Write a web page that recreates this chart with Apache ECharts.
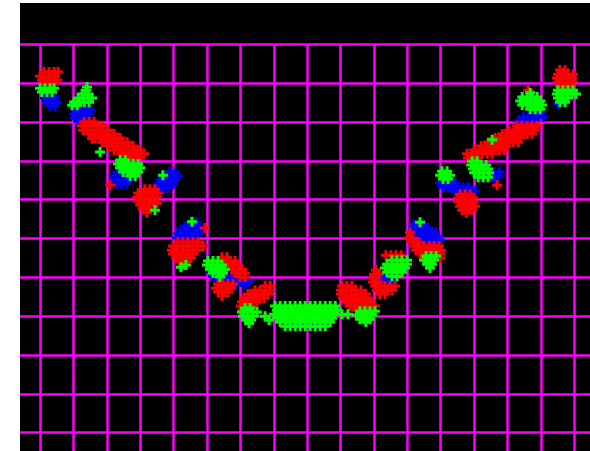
<!DOCTYPE html>
<html>
<head>
<meta charset="utf-8">
<script src="https://cdn.jsdelivr.net/npm/echarts@6/dist/echarts.min.js"></script>
<style>
  html, body { margin: 0; padding: 0; background: #ffffff; }
  #chart { width: 590px; height: 451px; }
</style>
</head>
<body>
<div id="chart"></div>
<script>
// Axis ranges: x runs 0..16, y runs 0..10, one grid line per unit
const xTicks = [0, 16, 1];
const yTicks = [0, 10, 1];

// Samples per channel, stored by rows: [y, x1, x2, ...]
const redRows = [
  [9.29, 0.12, 0.27, 0.42, 0.54], [9.18, 0.00, 0.15, 0.30, 0.45], [9.08, 0.06, 0.21, 0.36, 0.51], [8.98, 0.12, 0.27, 0.42],
  [8.00, 1.32, 1.47, 1.62], [7.90, 1.26, 1.41, 1.56, 1.71, 1.86], [7.79, 1.29, 1.44, 1.59, 1.74, 1.89, 2.04],
  [7.69, 1.47, 1.62, 1.77, 1.92, 2.07, 2.22], [7.59, 1.65, 1.80, 1.95, 2.10, 2.25, 2.40],
  [7.48, 1.86, 2.01, 2.16, 2.31, 2.46, 2.61], [7.38, 2.04, 2.19, 2.34, 2.49, 2.64, 2.79],
  [7.28, 2.22, 2.37, 2.52, 2.67, 2.82, 2.97], [7.18, 2.43, 2.58, 2.73, 2.88, 3.00, 3.12], [7.07, 2.64, 2.79, 2.94],
  [7.57, 1.56], [6.37, 2.10], [5.91, 3.50],
  [6.27, 3.14, 3.29, 3.44], [6.17, 2.94, 3.08, 3.23, 3.38, 3.53], [6.07, 2.91, 3.05, 3.20, 3.35, 3.50],
  [5.96, 2.94, 3.08, 3.23, 3.38], [5.86, 3.00, 3.14, 3.29], [5.76, 3.08, 3.23], [5.66, 3.20],
  [5.27, 4.94], [4.91, 4.13, 4.28, 4.43, 4.58, 4.73], [4.81, 3.98, 4.13, 4.28, 4.43, 4.58, 4.73, 4.88],
  [4.70, 3.95, 4.10, 4.25, 4.40, 4.55, 4.70], [4.60, 3.98, 4.13, 4.28, 4.43, 4.58],
  [4.50, 4.07, 4.22, 4.37, 4.52], [4.40, 4.19, 4.34], [4.29, 4.28],
  [4.52, 5.45, 5.60], [4.42, 5.54, 5.69, 5.84], [4.32, 5.63, 5.78, 5.93], [4.21, 5.75, 5.90, 6.05],
  [4.11, 5.84, 5.99, 6.14], [4.01, 5.99, 6.14],
  [3.83, 5.33, 5.48, 5.63, 5.78], [3.72, 5.27, 5.42, 5.57, 5.72], [3.62, 5.33, 5.48, 5.63], [3.52, 5.45],
  [3.78, 6.74, 6.89], [3.67, 6.44, 6.59, 6.74, 6.89], [3.57, 6.23, 6.38, 6.53, 6.68, 6.83],
  [3.47, 6.11, 6.26, 6.41, 6.56, 6.71], [3.37, 6.05, 6.20, 6.35, 6.50], [3.26, 6.02, 6.17, 6.32], [3.16, 6.08],
  [3.78, 9.04, 9.19, 9.34], [3.67, 9.01, 9.16, 9.31, 9.46, 9.61], [3.57, 9.01, 9.16, 9.31, 9.46, 9.61, 9.76],
  [3.47, 9.07, 9.22, 9.37, 9.52, 9.67, 9.82], [3.37, 9.16, 9.31, 9.46, 9.61, 9.76, 9.91],
  [3.26, 9.28, 9.43, 9.58, 9.73, 9.88, 10.03], [3.16, 9.49, 9.64, 9.79, 9.94], [3.05, 9.73, 9.88],
  [4.57, 10.36, 10.51, 10.66, 10.81], [4.19, 10.06], [4.08, 10.00, 10.15], [3.98, 9.97], [3.88, 9.97, 10.12],
  [3.78, 10.03, 10.18, 10.33, 10.48, 10.63], [3.67, 10.09, 10.24, 10.39, 10.54], [3.57, 10.18, 10.33],
  [5.16, 11.08], [5.01, 11.14, 11.02], [4.91, 11.17, 11.32], [4.81, 11.20, 11.35, 11.50, 11.65, 11.80, 11.95],
  [4.70, 11.26, 11.41, 11.56, 11.71, 11.86, 12.01], [4.60, 11.38, 11.53, 11.68, 11.83, 11.98], [4.50, 11.53, 11.98],
  [6.37, 13.69], [6.14, 12.58, 12.73, 12.88], [6.04, 12.52, 12.67, 12.82, 12.97], [5.94, 12.52, 12.67, 12.82, 12.97],
  [5.83, 12.58, 12.73, 12.88, 13.03], [5.73, 12.64, 12.79, 12.94], [5.66, 12.76],
  [7.90, 14.29, 14.44, 14.59, 14.74, 14.89], [7.79, 14.05, 14.20, 14.35, 14.50, 14.65, 14.80],
  [7.69, 13.84, 13.99, 14.14, 14.29, 14.44, 14.59, 14.74], [7.59, 13.63, 13.78, 13.93, 14.08, 14.23, 14.38],
  [7.48, 13.42, 13.57, 13.72, 13.87, 14.02, 14.17, 14.32], [7.38, 13.21, 13.36, 13.51, 13.66, 13.81, 13.96],
  [7.28, 13.00, 13.15, 13.30, 13.45, 13.60, 13.75, 13.90], [7.18, 12.79, 12.94, 13.09, 13.24, 13.39, 13.54],
  [7.07, 12.82, 12.97, 13.12], [8.82, 14.62],
  [9.34, 15.57, 15.72], [9.23, 15.51, 15.66, 15.81, 15.96], [9.13, 15.48, 15.63, 15.78, 15.93],
  [9.03, 15.51, 15.66, 15.81, 15.96], [8.92, 15.57, 15.72, 15.87]
];

const greenRows = [
  [8.87, 0.00, 0.15, 0.30, 0.42], [8.77, 0.06, 0.21, 0.36],
  [8.90, 1.41], [8.82, 1.38], [8.72, 1.26, 1.44], [8.62, 1.14, 1.29, 1.44, 1.56], [8.51, 1.02, 1.17, 1.32, 1.47], [8.43, 0.96, 1.11],
  [7.23, 1.80], [7.02, 2.40, 2.55], [6.92, 2.34, 2.49, 2.64, 2.79, 2.94], [6.82, 2.40, 2.55, 2.70, 2.85, 3.00],
  [6.71, 2.49, 2.64, 2.79, 2.94], [6.61, 2.70, 2.85],
  [6.63, 3.68], [5.73, 3.44], [5.43, 4.55], [4.32, 4.37], [4.26, 4.22],
  [4.42, 5.03, 5.18, 5.33], [4.32, 5.00, 5.15, 5.30, 5.45], [4.21, 5.09, 5.24, 5.39, 5.54],
  [4.11, 5.18, 5.33, 5.48], [4.01, 5.39],
  [3.21, 6.14, 6.29], [3.11, 6.05, 6.20, 6.35, 6.50], [3.00, 6.08, 6.23, 6.38, 6.74], [2.90, 6.17, 6.32, 6.86], [2.82, 6.26],
  [3.26, 7.04, 7.19, 7.34, 7.49, 7.64, 7.79, 7.94, 8.09, 8.24, 8.39, 8.54, 8.69, 8.84],
  [3.16, 7.10, 7.25, 7.40, 7.55, 7.70, 7.85, 8.00, 8.15, 8.30, 8.45, 8.60, 8.75, 8.90],
  [3.05, 7.01, 7.16, 7.31, 7.46, 7.61, 7.76, 7.91, 8.06, 8.21, 8.36, 8.51, 8.66, 8.81, 9.04, 9.22],
  [2.95, 7.10, 7.25, 7.40, 7.55, 7.70, 7.85, 8.00, 8.15, 8.30, 8.45, 8.60, 8.75],
  [2.85, 7.19, 7.34, 7.49, 7.64, 7.79, 7.94, 8.09, 8.24, 8.39, 8.54, 8.69],
  [2.74, 7.34, 7.49, 7.64, 7.79, 7.94, 8.09, 8.24, 8.39, 8.54],
  [3.13, 9.58, 9.73, 9.88, 10.03], [3.03, 9.49, 9.64, 9.79, 9.94], [2.92, 9.58, 9.73, 9.88], [2.85, 9.76],
  [4.44, 10.54, 10.69, 10.84, 10.99], [4.34, 10.39, 10.54, 10.69, 10.84, 10.99],
  [4.24, 10.33, 10.48, 10.63, 10.78, 10.93], [4.13, 10.39, 10.54, 10.69, 10.84], [4.03, 10.54, 10.69],
  [5.42, 11.38], [4.55, 11.56, 11.71, 11.86], [4.44, 11.50, 11.65, 11.80], [4.34, 11.59, 11.74], [4.24, 11.68],
  [6.73, 12.04, 12.19], [6.63, 11.98, 12.13, 12.28], [6.53, 12.07, 12.22],
  [7.54, 13.54],
  [6.99, 12.94, 13.09], [6.89, 12.91, 13.06, 13.21, 13.36], [6.79, 12.97, 13.12, 13.27, 13.42],
  [6.69, 13.00, 13.15, 13.30, 13.45], [6.58, 13.12, 13.27, 13.42],
  [8.75, 14.68], [8.64, 14.44, 14.59, 14.74, 14.89], [8.54, 14.38, 14.53, 14.68, 14.83, 14.98],
  [8.44, 14.44, 14.59, 14.74, 14.89, 15.04], [8.33, 14.68, 14.83, 14.98],
  [8.82, 15.51, 15.66, 15.81, 15.96], [8.72, 15.48, 15.63, 15.78, 15.93, 16.05],
  [8.62, 15.51, 15.66, 15.81], [8.51, 15.57, 15.72]
];

const blueRows = [
  [8.62, 0.15, 0.30, 0.45], [8.51, 0.21, 0.36, 0.48], [8.41, 0.30, 0.45],
  [8.31, 1.08, 1.23, 1.38, 1.50], [8.21, 1.02, 1.17, 1.32, 1.47], [8.10, 1.05, 1.20, 1.35], [8.03, 1.14],
  [6.71, 2.31, 2.46], [6.61, 2.25, 2.40, 2.55], [6.51, 2.22, 2.37, 2.52, 2.67], [6.40, 2.28, 2.43, 2.58],
  [6.71, 3.89, 4.04], [6.61, 3.68, 3.83, 3.98, 4.13], [6.51, 3.59, 3.74, 3.89, 4.04],
  [6.40, 3.53, 3.68, 3.83, 3.98], [6.30, 3.53, 3.68, 3.83], [6.20, 3.59],
  [5.42, 4.55, 4.70], [5.32, 4.34, 4.49, 4.64, 4.79], [5.22, 4.22, 4.37, 4.52, 4.67, 4.82],
  [5.12, 4.13, 4.28, 4.43, 4.58, 4.73], [5.01, 4.10, 4.25, 4.40, 4.55], [4.91, 4.19, 4.34],
  [4.13, 5.09, 5.24], [4.03, 5.18, 5.33, 5.48, 5.63, 5.78], [3.93, 5.33, 5.48, 5.63, 5.78, 5.93],
  [3.83, 5.63, 5.87], [3.88, 6.02, 6.23], [3.80, 6.14],
  [2.80, 7.49, 7.70, 7.91, 8.12, 8.33, 8.54],
  [3.98, 10.18, 10.33, 10.48], [3.88, 10.27, 10.42, 10.57],
  [5.37, 11.20, 11.35, 11.50], [5.27, 11.17, 11.32, 11.47, 11.62], [5.16, 11.23, 11.38, 11.53, 11.68, 11.83],
  [5.06, 11.32, 11.47, 11.62, 11.77, 11.92], [4.96, 11.53, 11.68, 11.83, 11.98], [4.86, 11.74, 11.89],
  [6.43, 11.98, 12.13, 12.28, 12.43], [6.32, 12.07, 12.22, 12.37, 12.52, 12.67, 12.82],
  [6.22, 12.43, 12.58, 12.73, 12.88, 13.03],
  [6.71, 13.60, 13.75], [6.61, 13.57, 13.72], [6.50, 13.63],
  [8.23, 14.83, 14.98], [8.13, 14.47, 14.62, 14.77, 14.92, 15.07], [8.03, 14.32, 14.47, 14.62, 14.77],
  [8.46, 15.51]
];

// Expand [y, x1, x2, ...] rows into [x, y] pairs
const toPoints = (rows) => rows.flatMap(r => r.slice(1).map(x => [x, r[0]]));

// Plus-shaped marker
const PLUS = 'path://M3.5,0H6.5V10H3.5ZM0,3.5H10V6.5H0Z';
const GRID_COLOR = '#ff00ff';

const hiddenAxis = (gridIndex) => ({ gridIndex: gridIndex, type: 'value', show: false });

const lineAxis = (gridIndex, ticks) => ({
  gridIndex: gridIndex,
  type: 'value',
  min: ticks[0],
  max: ticks[1],
  interval: ticks[2],
  axisLine: { show: false },
  axisTick: { show: false },
  axisLabel: { show: false },
  splitLine: {
    show: true,
    showMinLine: true,
    showMaxLine: true,
    lineStyle: { color: GRID_COLOR, width: 2.5 }
  }
});

const dataAxis = (gridIndex, ticks) => ({
  gridIndex: gridIndex, type: 'value', min: ticks[0], max: ticks[1], show: false
});

const scatter = (name, rows, color) => ({
  name: name,
  type: 'scatter',
  xAxisIndex: 3,
  yAxisIndex: 3,
  data: toPoints(rows),
  symbol: PLUS,
  symbolSize: 10,
  clip: false,
  itemStyle: { color: color, opacity: 1 },
  emphasis: { disabled: true }
});

const chart = echarts.init(document.getElementById('chart'), null, { renderer: 'canvas' });

chart.setOption({
  backgroundColor: '#ffffff',
  animation: false,
  grid: [
    // black panel
    { left: 20, top: 3, right: 0, bottom: 0, show: true, backgroundColor: '#000000', borderWidth: 0 },
    // vertical grid lines, running to the panel's bottom edge
    { left: 40, right: 15.7, top: 44.3, bottom: 0 },
    // horizontal grid lines, spanning the panel's full width
    { left: 20, right: 0, top: 44.3, bottom: 18.3 },
    // plotting area
    { left: 40, right: 15.7, top: 44.3, bottom: 18.3 }
  ],
  xAxis: [hiddenAxis(0), lineAxis(1, xTicks), hiddenAxis(2), dataAxis(3, xTicks)],
  yAxis: [hiddenAxis(0), hiddenAxis(1), lineAxis(2, yTicks), dataAxis(3, yTicks)],
  series: [
    scatter('blue', blueRows, '#0000ff'),
    scatter('red', redRows, '#ff0000'),
    scatter('green', greenRows, '#00ff00')
  ]
});
</script>
</body>
</html>
